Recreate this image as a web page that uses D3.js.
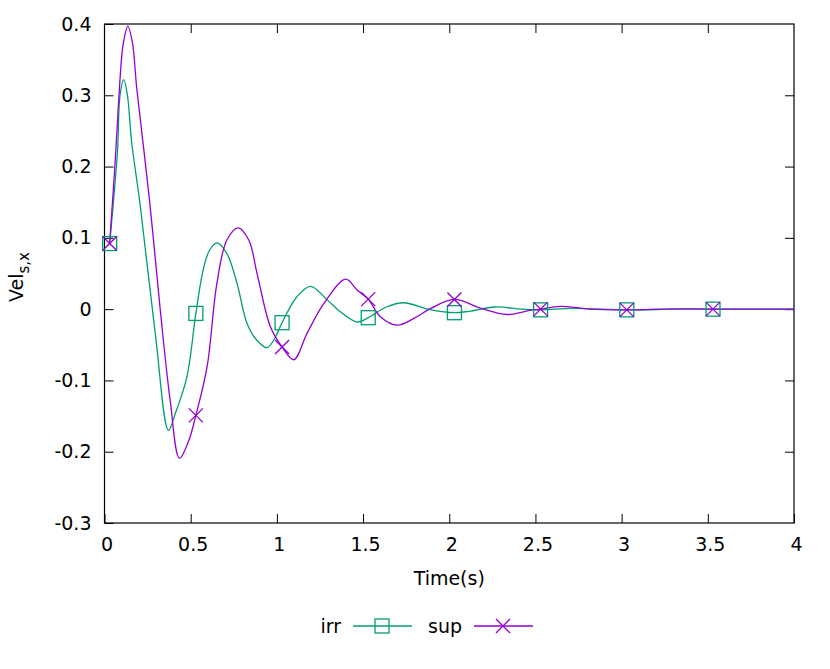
<!DOCTYPE html>
<html>
<head>
<meta charset="utf-8">
<script src="https://cdn.jsdelivr.net/npm/d3@7"></script>
<style>
  body { margin: 0; background: #fff; }
  svg text { font-family: "DejaVu Sans", sans-serif; font-size: 19px; fill: #000; }
</style>
</head>
<body>
<svg id="chart" width="830" height="669"></svg>
<script>
// irr curve (green)
const irrTime = [0.03, 0.075, 0.09, 0.112, 0.133, 0.158, 0.205, 0.295, 0.371, 0.41, 0.478, 0.53, 0.575, 0.61, 0.653, 0.71, 0.769, 0.827, 0.885, 0.943, 0.985, 1.03, 1.115, 1.195, 1.292, 1.37, 1.465, 1.53, 1.635, 1.735, 1.895, 2.03, 2.115, 2.265, 2.415, 2.53, 2.715, 3.03, 3.315, 3.53, 4.0];
const irrVel  = [0.092, 0.22, 0.30, 0.322, 0.30, 0.233, 0.150, -0.035, -0.170, -0.147, -0.095, -0.006, 0.058, 0.083, 0.093, 0.078, 0.036, -0.020, -0.044, -0.054, -0.042, -0.019, 0.017, 0.032, 0.013, -0.004, -0.018, -0.012, 0.003, 0.009, -0.001, -0.005, -0.003, 0.003, 0.0, -0.001, 0.001, -0.001, 0.0, 0.0, 0.0];

// sup curve (purple)
const supTime = [0.03, 0.06, 0.1, 0.113, 0.135, 0.162, 0.187, 0.261, 0.323, 0.381, 0.435, 0.488, 0.53, 0.595, 0.652, 0.71, 0.775, 0.837, 0.885, 0.963, 1.03, 1.098, 1.175, 1.273, 1.399, 1.465, 1.53, 1.602, 1.699, 1.795, 1.893, 2.03, 2.185, 2.335, 2.475, 2.53, 2.645, 2.815, 3.03, 3.315, 3.53, 4.0];
const supVel  = [0.092, 0.20, 0.355, 0.378, 0.397, 0.374, 0.310, 0.153, 0.0, -0.128, -0.209, -0.185, -0.149, -0.081, 0.036, 0.097, 0.114, 0.097, 0.05, -0.025, -0.053, -0.071, -0.034, 0.008, 0.042, 0.027, 0.014, -0.011, -0.0225, -0.013, 0.001, 0.0136, 0.001, -0.0075, -0.0015, 0.0, 0.004, 0.0, -0.001, 0.0005, 0.0, 0.0];

// marker points
const markTime   = [0.03, 0.53, 1.03, 1.53, 2.03, 2.53, 3.03, 3.53];
const irrMarkVel = [0.092, -0.006, -0.019, -0.012, -0.005, -0.001, -0.001, 0.0];
const supMarkVel = [0.092, -0.149, -0.053, 0.014, 0.0136, 0.0, -0.001, 0.0];

const xTicks = [0, 0.5, 1, 1.5, 2, 2.5, 3, 3.5, 4];
const yTicks = [-0.3, -0.2, -0.1, 0, 0.1, 0.2, 0.3, 0.4];

const GREEN = "#009e73", PURPLE = "#9400d3";

const margin = {top: 24, left: 104.5};
const width = 689.5,
      height = 499;

const svg = d3.select("#chart");
const g = svg.append("g").attr("transform", `translate(${margin.left},${margin.top})`);

const x = d3.scaleLinear().domain([0, 4]).range([0, width]);
const y = d3.scaleLinear().domain([-0.3, 0.4]).range([height, 0]);

// gnuplot style labels, plain hyphen for minus
const fmt = d => String(+d.toFixed(1));

// axes with inward ticks, mirrored on top/right
g.append("g").attr("transform", `translate(0,${height})`)
    .call(d3.axisBottom(x).tickValues(xTicks).tickFormat(fmt).tickSizeInner(-9).tickSizeOuter(0).tickPadding(15))
    .call(a => a.select(".domain").remove())
    .call(a => a.selectAll("text").attr("dx", 2));
g.append("g")
    .call(d3.axisTop(x).tickValues(xTicks.slice(1, -1)).tickFormat("").tickSizeInner(-9).tickSizeOuter(0))
    .call(a => a.select(".domain").remove());
g.append("g")
    .call(d3.axisLeft(y).tickValues(yTicks).tickFormat(fmt).tickSizeInner(-9).tickSizeOuter(0).tickPadding(13))
    .call(a => a.select(".domain").remove());
g.append("g").attr("transform", `translate(${width},0)`)
    .call(d3.axisRight(y).tickValues(yTicks.slice(1, -1)).tickFormat("").tickSizeInner(-9).tickSizeOuter(0))
    .call(a => a.select(".domain").remove());

g.selectAll(".tick line").attr("stroke", "#000").attr("stroke-width", 1);
g.selectAll(".tick text").style("font-size", "19px").style("font-family", "DejaVu Sans, sans-serif");

g.append("rect").attr("width", width).attr("height", height)
    .attr("fill", "none").attr("stroke", "#000").attr("stroke-width", 1.2);

// curves
const line = d3.line().x(d => x(d[0])).y(d => y(d[1])).curve(d3.curveCatmullRom.alpha(0.5));
g.append("path").datum(d3.zip(irrTime, irrVel))
    .attr("d", line).attr("fill", "none").attr("stroke", GREEN).attr("stroke-width", 1.3);
g.append("path").datum(d3.zip(supTime, supVel))
    .attr("d", line).attr("fill", "none").attr("stroke", PURPLE).attr("stroke-width", 1.3);

const S = 7;
function square(sel, cx, cy) {
    sel.append("rect").attr("x", cx - S).attr("y", cy - S).attr("width", 2 * S).attr("height", 2 * S)
        .attr("fill", "none").attr("stroke", GREEN).attr("stroke-width", 1.3);
}
function cross(sel, cx, cy) {
    sel.append("path").attr("d", `M${cx - S},${cy - S}L${cx + S},${cy + S}M${cx - S},${cy + S}L${cx + S},${cy - S}`)
        .attr("fill", "none").attr("stroke", PURPLE).attr("stroke-width", 1.3);
}
markTime.forEach((t, i) => square(g, x(t), y(irrMarkVel[i])));
markTime.forEach((t, i) => cross(g, x(t), y(supMarkVel[i])));

// axis titles
svg.append("text").attr("x", margin.left + width / 2).attr("y", 585)
    .attr("text-anchor", "middle").text("Time(s)");
const yl = svg.append("text").attr("transform", "translate(23,277) rotate(-90)")
    .attr("text-anchor", "middle");
yl.append("tspan").text("Vel");
yl.append("tspan").attr("dy", 6).style("font-size", "15px").text("s,x");

// legend
const ly = 626;
svg.append("text").attr("x", 341).attr("y", ly + 7).attr("text-anchor", "end").text("irr");
svg.append("line").attr("x1", 353).attr("x2", 412).attr("y1", ly).attr("y2", ly)
    .attr("stroke", GREEN).attr("stroke-width", 1.3);
square(svg, 382, ly);
svg.append("text").attr("x", 462).attr("y", ly + 7).attr("text-anchor", "end").text("sup");
svg.append("line").attr("x1", 474).attr("x2", 533).attr("y1", ly).attr("y2", ly)
    .attr("stroke", PURPLE).attr("stroke-width", 1.3);
cross(svg, 503, ly);
</script>
</body>
</html>
